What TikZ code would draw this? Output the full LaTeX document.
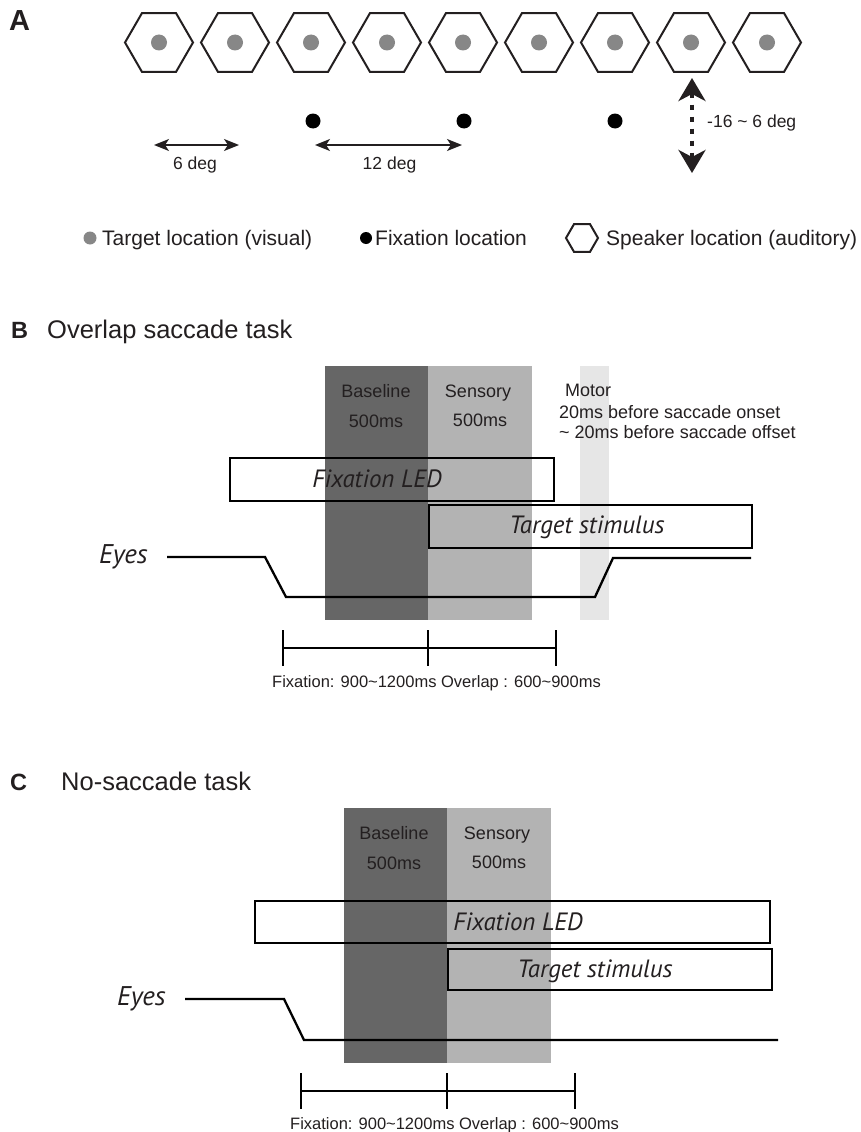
\documentclass[tikz,border=0pt]{standalone}
\usepackage{fontspec}
\setmainfont{Liberation Sans}
\newfontfamily\itfont{PT Sans}
\usetikzlibrary{shapes.geometric,arrows.meta}
\definecolor{dk}{HTML}{666666}
\definecolor{lt}{HTML}{B3B3B3}
\definecolor{mt}{HTML}{E6E6E6}
\definecolor{tg}{HTML}{878787}
\definecolor{ink}{HTML}{231F20}
\begin{document}
\begin{tikzpicture}[x=1pt,y=-1pt,
  hex/.style={regular polygon, regular polygon sides=6, minimum size=68pt, inner sep=0pt, draw=ink, line width=2pt},
  tdot/.style={circle, fill=tg, minimum size=16pt, inner sep=0pt},
  fdot/.style={circle, fill=black, minimum size=15pt, inner sep=0pt},
  lbl/.style={font=\fontsize{17.5}{21}\selectfont, text=ink, inner sep=0pt},
  leg/.style={font=\fontsize{21}{25}\selectfont, text=ink, inner sep=0pt, anchor=base west},
  panel/.style={font=\bfseries\fontsize{23.5}{28}\selectfont, text=ink, inner sep=0pt, anchor=base west},
  ttl/.style={font=\fontsize{25.5}{30}\selectfont, text=ink, inner sep=0pt, anchor=base west},
  sm/.style={font=\fontsize{18}{21}\selectfont, text=ink, inner sep=0pt},
  itl/.style={font=\itfont\itshape\fontsize{25}{29}\selectfont, text=ink, inner sep=0pt},
  eyl/.style={font=\itfont\itshape\fontsize{27}{31}\selectfont, text=ink, inner sep=0pt, anchor=base west},
  tlab/.style={font=\fontsize{16.5}{20}\selectfont, text=ink, inner sep=0pt, anchor=base west},
  box/.style={draw=black, line width=2.3pt, inner sep=0pt, anchor=north west},
  eye/.style={draw=black, line width=2.3pt},
  tl/.style={draw=black, line width=2pt},
  dbl/.style={{Stealth[length=15pt,width=12pt,inset=4pt]}-{Stealth[length=15pt,width=12pt,inset=4pt]}, line width=1.6pt, draw=ink},
  vdbl/.style={{Stealth[length=23pt,width=27pt,inset=7pt]}-{Stealth[length=23pt,width=27pt,inset=7pt]}, line width=4pt, dash pattern=on 5pt off 7pt, draw=ink}
]
\useasboundingbox (0,0) rectangle (860,1132);
\fill[white] (0,0) rectangle (860,1132);

% ---------------- Panel A ----------------
\node[font=\bfseries\fontsize{29}{33}\selectfont, text=ink, inner sep=0pt, anchor=base west] (labA) at (9,31) {A};
\foreach \i in {0,...,8} {
  \node[hex] (h\i) at ({159+76*\i},42.5) {};
  \node[tdot] (t\i) at (h\i.center) {};
}
\node[fdot] (f1) at (313,121) {};
\node[fdot] (f2) at (464,121) {};
\node[fdot] (f3) at (615,121) {};

\coordinate (a6l) at (154,145);
\coordinate (a6r) at (239,145);
\draw[dbl] (a6l) -- (a6r);
\node[lbl, anchor=base] (l6) at (195,169) {6 deg};

\coordinate (a12l) at (315,145);
\coordinate (a12r) at (462,145);
\draw[dbl] (a12l) -- (a12r);
\node[lbl, anchor=base] (l12) at (389.5,169) {12 deg};

\coordinate (vt) at (692,78);
\coordinate (vb) at (692,173);
\draw[vdbl] (vt) -- (vb);
\node[lbl, anchor=base west] (lv) at (707,127) {-16 \textasciitilde{} 6 deg};

% legend
\node[tdot, minimum size=13pt] (lg1) at (90,238) {};
\node[leg] (lt1) at (102,245) {Target location (visual)};
\node[fdot, minimum size=12pt] (lg2) at (366,238) {};
\node[leg] (lt2) at (375,245) {Fixation location};
\node[hex, minimum size=32pt] (lg3) at (582,238) {};
\node[leg] (lt3) at (606,245) {Speaker location (auditory)};

% ---------------- Panel B ----------------
\node[panel] (labB) at (11,338) {B};
\node[ttl] (titB) at (47,338) {Overlap saccade task};

\fill[dk] (325,366) rectangle (428,620);
\fill[lt] (428,366) rectangle (532,620);
\fill[mt] (580,366) rectangle (609,620);

\node[sm, anchor=base] (bB1) at (376,397) {Baseline};
\node[sm, anchor=base] (bB2) at (376,427) {500ms};
\node[sm, anchor=base] (sB1) at (478,397) {Sensory};
\node[sm, anchor=base] (sB2) at (480,426) {500ms};
\node[sm, anchor=base west] (mB1) at (565,396) {Motor};
\node[sm, anchor=base west] (mB2) at (559,418) {20ms before saccade onset};
\node[sm, anchor=base west] (mB3) at (559,438) {\textasciitilde{} 20ms before saccade offset};

\node[box, minimum width=324pt, minimum height=43pt] (fixB) at (229,457) {};
\node[itl, anchor=base] (fixBt) at (377,487) {Fixation LED};
\node[box, minimum width=323pt, minimum height=43pt] (tarB) at (428,504) {};
\node[itl, anchor=base] (tarBt) at (587,533) {Target stimulus};

\node[eyl] (eyB) at (99,563) {Eyes};
\coordinate (eB0) at (167,557);
\coordinate (eB1) at (265,557);
\coordinate (eB2) at (286,597);
\coordinate (eB3) at (595,597);
\coordinate (eB4) at (613,558);
\coordinate (eB5) at (751,558);
\draw[eye] (eB0) -- (eB1) -- (eB2) -- (eB3) -- (eB4) -- (eB5);

\coordinate (tB1) at (282.5,648);
\coordinate (tB2) at (428,648);
\coordinate (tB3) at (556,648);
\draw[tl] (tB1) -- (tB3);
\foreach \c in {tB1,tB2,tB3} { \draw[tl] ([yshift=18pt]\c) -- ([yshift=-18pt]\c); }
\node[tlab] (tlB) at (272,687) {Fixation: 900\textasciitilde1200ms Overlap : 600\textasciitilde900ms};

% ---------------- Panel C ----------------
\node[panel] (labC) at (10,790) {C};
\node[ttl] (titC) at (61,790) {No-saccade task};

\fill[dk] (344,808) rectangle (447,1063);
\fill[lt] (447,808) rectangle (551,1063);

\node[sm, anchor=base] (bC1) at (394,839) {Baseline};
\node[sm, anchor=base] (bC2) at (394,869) {500ms};
\node[sm, anchor=base] (sC1) at (497,839) {Sensory};
\node[sm, anchor=base] (sC2) at (499,868) {500ms};

\node[box, minimum width=515pt, minimum height=42pt] (fixC) at (254,900) {};
\node[itl, anchor=base] (fixCt) at (518,930) {Fixation LED};
\node[box, minimum width=324pt, minimum height=41pt] (tarC) at (447,948) {};
\node[itl, anchor=base] (tarCt) at (595,977) {Target stimulus};

\node[eyl] (eyC) at (117,1005) {Eyes};
\coordinate (eC0) at (185,999);
\coordinate (eC1) at (284,999);
\coordinate (eC2) at (304,1040);
\coordinate (eC3) at (778,1040);
\draw[eye] (eC0) -- (eC1) -- (eC2) -- (eC3);

\coordinate (tC1) at (301,1091);
\coordinate (tC2) at (447,1091);
\coordinate (tC3) at (575,1091);
\draw[tl] (tC1) -- (tC3);
\foreach \c in {tC1,tC2,tC3} { \draw[tl] ([yshift=18pt]\c) -- ([yshift=-18pt]\c); }
\node[tlab] (tlC) at (290,1129) {Fixation: 900\textasciitilde1200ms Overlap : 600\textasciitilde900ms};
\end{tikzpicture}
\end{document}
